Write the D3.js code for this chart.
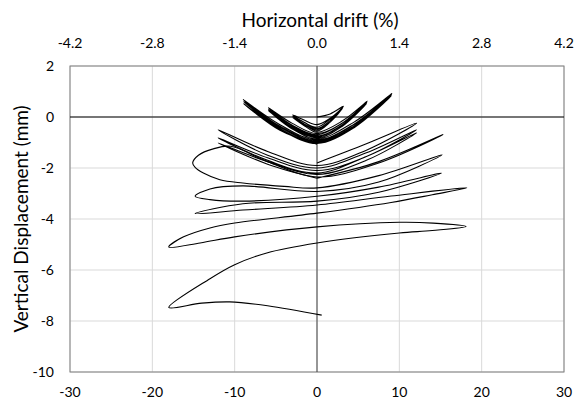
<!DOCTYPE html>
<html>
<head>
<meta charset="utf-8">
<script src="https://cdn.jsdelivr.net/npm/d3@7"></script>
<style>
  body { margin: 0; background: #fff; }
  text { font-family: Lato, "Open Sans", sans-serif; fill: #000; }
</style>
</head>
<body>
<svg id="chart" width="582" height="418"></svg>
<script>
// tick values
var xTicks = [-30, -20, -10, 0, 10, 20, 30];
var yTicks = [2, 0, -2, -4, -6, -8, -10];
var driftTicks = [-4.2, -2.8, -1.4, 0.0, 1.4, 2.8, 4.2];

// horizontal displacement (mm) vs vertical displacement (mm)
// small cycles, +-3 / +-6 / +-9 mm
var smallCycles = [
  [0, 0], [1.6, 0.12], [3.2, 0.42],
  [1.6, -0.05], [0, -0.3], [-1.5, -0.13], [-2.95, 0.08],
  [-1.5, -0.22], [0, -0.4], [1.6, -0.08], [3.15, 0.38],
  [1.6, -0.14], [0, -0.45], [-1.5, -0.22], [-2.95, 0.03],
  [-1.5, -0.28], [0, -0.5], [1.6, -0.14], [3.1, 0.34],
  [1.6, -0.2], [0, -0.55], [-1.5, -0.3], [-2.95, -0.02],
  [-1.5, -0.35], [0, -0.6],
  [3, -0.17], [6.1, 0.62],
  [3, -0.25], [0, -0.65], [-3, -0.25], [-5.9, 0.36],
  [-3, -0.32], [0, -0.7], [3, -0.26], [6.05, 0.57],
  [3, -0.32], [0, -0.74], [-3, -0.35], [-5.9, 0.3],
  [-3, -0.4], [0, -0.78], [3, -0.33], [6, 0.52],
  [3, -0.38], [0, -0.82], [-3, -0.44], [-5.9, 0.25],
  [-3, -0.47], [0, -0.86],
  [4.5, -0.2], [9.1, 0.92],
  [4.5, -0.28], [0, -0.9], [-4.5, -0.3], [-8.95, 0.68],
  [-4.5, -0.36], [0, -0.94], [4.5, -0.3], [9.05, 0.87],
  [4.5, -0.35], [0, -0.98], [-4.5, -0.4], [-8.9, 0.6],
  [-4.5, -0.45], [0, -1.01], [4.5, -0.37], [9, 0.82],
  [4.5, -0.42], [0, -1.04], [-4.5, -0.48], [-8.9, 0.52],
  [-4.5, -0.52], [0, -1.07]
];

// +-12 mm cycles
var midCycles = [
  [0, -1.8], [6, -1.05], [12.1, -0.24],
  [6, -1.3], [0, -1.9], [-6, -1.35], [-12, -0.5],
  [-6, -1.5], [0, -2.0], [6, -1.4], [12.1, -0.5],
  [6, -1.55], [0, -2.1], [-6, -1.6], [-12, -0.82],
  [-6, -1.7], [0, -2.2], [6, -1.55], [12.1, -0.62],
  [6, -1.7], [0, -2.25], [-6, -1.75], [-12, -1.02],
  [-6, -1.85], [0, -2.4]
];

// +-15 and +-18 mm cycles up to the end of the test
var largeCycles = [
  [0, -2.4], [7.5, -1.75], [15.3, -0.69],
  [7.5, -1.8], [0, -2.35], [-6, -1.75], [-10.5, -1.15], [-12.6, -1.25],
  [-14.4, -1.5], [-15.1, -1.8], [-14.8, -1.98], [-13.8, -2.2], [-11.8, -2.46],
  [-9, -2.59], [-4, -2.72], [0, -2.78], [7.5, -2.3], [15.2, -1.48],
  [7.5, -2.55], [0, -2.92], [-9, -2.7], [-13, -2.82], [-14.8, -3.11],
  [-13, -3.24], [-9, -3.3], [0, -3.11], [7.5, -2.75], [15.1, -2.2],
  [7.5, -2.95], [0, -3.3], [-9, -3.4], [-14.8, -3.79],
  [-9, -3.65], [0, -3.45], [9, -3.1], [18.2, -2.78],
  [14, -3.05], [9, -3.35], [0, -3.77], [-10, -4.16], [-13, -4.35], [-16.2, -4.7], [-18, -5.1],
  [-14.2, -4.94], [-10, -4.7], [0, -4.31], [10, -4.13], [14.1, -4.16], [18.1, -4.29],
  [14, -4.45], [10, -4.55], [0, -4.94], [-6.1, -5.33], [-10, -5.79], [-13, -6.34], [-18, -7.47],
  [-14, -7.3], [-10.6, -7.25], [-6, -7.4], [0.57, -7.77]
];

var svg = d3.select("#chart"),
    plotLeft = 70, plotRight = 564, plotTop = 66, plotBottom = 372;

var x = d3.scaleLinear().domain([-30, 30]).range([plotLeft, plotRight]);
var y = d3.scaleLinear().domain([-10, 2]).range([plotBottom, plotTop]);
var drift = d3.scaleLinear().domain([-4.2, 4.2]).range([plotLeft, plotRight]);

// grid
svg.append("g")
  .selectAll("line")
  .data(xTicks)
  .enter().append("line")
    .attr("x1", function(d) { return x(d); })
    .attr("x2", function(d) { return x(d); })
    .attr("y1", plotTop).attr("y2", plotBottom)
    .attr("stroke", "#d9d9d9");

svg.append("g")
  .selectAll("line")
  .data(yTicks)
  .enter().append("line")
    .attr("x1", plotLeft).attr("x2", plotRight)
    .attr("y1", function(d) { return y(d); })
    .attr("y2", function(d) { return y(d); })
    .attr("stroke", "#d9d9d9");

svg.append("rect")
  .attr("x", plotLeft).attr("y", plotTop)
  .attr("width", plotRight - plotLeft).attr("height", plotBottom - plotTop)
  .attr("fill", "none")
  .attr("stroke", "#808080");

// zero lines
svg.append("line")
  .attr("x1", x(0)).attr("x2", x(0))
  .attr("y1", plotTop).attr("y2", plotBottom)
  .attr("stroke", "#404040");
svg.append("line")
  .attr("x1", plotLeft).attr("x2", plotRight)
  .attr("y1", y(0)).attr("y2", y(0))
  .attr("stroke", "#000");

// curves
var line = d3.line()
  .x(function(d) { return x(d[0]); })
  .y(function(d) { return y(d[1]); })
  .curve(d3.curveCatmullRom.alpha(0.5));

svg.append("g")
  .selectAll("path")
  .data([smallCycles, midCycles, largeCycles])
  .enter().append("path")
    .attr("d", line)
    .attr("fill", "none")
    .attr("stroke", "#000")
    .attr("stroke-width", 1.1);

// bottom axis labels
svg.append("g")
  .selectAll("text")
  .data(xTicks)
  .enter().append("text")
    .attr("x", function(d) { return x(d); })
    .attr("y", plotBottom + 25)
    .attr("text-anchor", "middle")
    .attr("font-size", 14)
    .text(function(d) { return d; });

// left axis labels
svg.append("g")
  .selectAll("text")
  .data(yTicks)
  .enter().append("text")
    .attr("x", plotLeft - 16)
    .attr("y", function(d) { return y(d); })
    .attr("dy", "0.35em")
    .attr("text-anchor", "end")
    .attr("font-size", 14)
    .text(function(d) { return d; });

// top axis labels (drift)
svg.append("g")
  .selectAll("text")
  .data(driftTicks)
  .enter().append("text")
    .attr("x", function(d) { return drift(d); })
    .attr("y", plotTop - 18)
    .attr("text-anchor", "middle")
    .attr("font-size", 14)
    .text(function(d) { return d.toFixed(1); });

svg.append("text")
  .attr("x", 320)
  .attr("y", 27)
  .attr("text-anchor", "middle")
  .attr("font-size", 19)
  .text("Horizontal drift (%)");

svg.append("text")
  .attr("transform", "translate(28," + ((plotTop + plotBottom) / 2) + ")rotate(-90)")
  .attr("text-anchor", "middle")
  .attr("font-size", 19)
  .text("Vertical Displacement (mm)");
</script>
</body>
</html>
